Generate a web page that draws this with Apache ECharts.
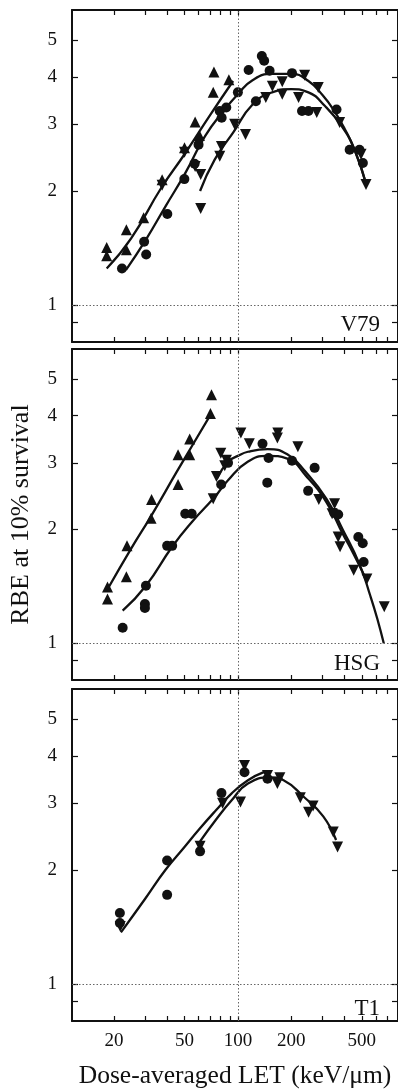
<!DOCTYPE html>
<html>
<head>
<meta charset="utf-8">
<title>RBE vs LET</title>
<script src="https://cdn.jsdelivr.net/npm/echarts@6/dist/echarts.min.js"></script>
<style>
  html, body { margin: 0; padding: 0; background: #fff; }
  #chart { width: 398px; height: 1090px; }
</style>
</head>
<body>
<div id="chart"></div>
<script>
// Axis ticks and labels
const letLabels = [20, 50, 100, 200, 500];
const letTicks = [20, 30, 40, 50, 60, 70, 80, 90, 100, 200, 300, 400, 500, 600, 700];
const rbeLabels = [1, 2, 3, 4, 5];
const rbeTicks = [0.9, 1, 2, 3, 4, 5];
const panelNames = ['V79', 'HSG', 'T1'];

// V79 measurements [LET, RBE]
const v79Up = [[18.2,1.42],[18.2,1.35],[23.5,1.58],[23.5,1.40],[29.4,1.70],[37.4,2.14],[50,2.60],
  [57.4,3.04],[60.7,2.80],[73.3,4.12],[72.6,3.64],[89,3.93]];
const v79Circle = [[22.2,1.25],[30.4,1.36],[29.6,1.47],[40,1.74],[49.9,2.15],[57,2.36],[60,2.65],
  [79,3.25],[86,3.32],[81,3.12],[100,3.64],[115,4.17],[126.4,3.45],[136.5,4.54],[140.7,4.41],
  [151,4.15],[202,4.09],[230,3.25],[250,3.25],[360,3.28],[427,2.57],[485,2.57],[507,2.37]];
const v79Down = [[37.4,2.07],[50,2.53],[57.4,2.32],[61.7,2.21],[61.7,1.80],[79,2.47],[80.8,2.62],
  [95.9,3.00],[110.4,2.82],[143.7,3.53],[156.5,3.78],[178,3.88],[178,3.60],[220,3.53],[238,4.04],
  [278.6,3.22],[284,3.75],[375,3.03],[495,2.50],[528,2.08]];
// V79 fitted curves
const v79UpFit = [[18.2,1.25],[25,1.50],[37,2.04],[50,2.50],[70,3.18],[94,3.90]];
const v79CircleFit = [[23.4,1.24],[30.3,1.49],[39,1.82],[50.5,2.23],[65.3,2.79],[84.3,3.28],[100,3.60],
  [121,3.92],[156,4.07],[200,4.07],[250,3.90],[300,3.58],[350,3.25],[400,2.92],[455,2.57],[530,2.08]];
const v79DownFit = [[61.2,2.00],[74,2.42],[94,2.85],[121,3.38],[156,3.64],[200,3.71],[250,3.64],
  [310,3.35],[384,2.97],[455,2.57],[530,2.08]];

// HSG measurements
const hsgUp = [[18.4,1.41],[18.4,1.31],[23.7,1.81],[23.5,1.50],[32.6,2.40],[32.4,2.14],[46,3.15],
  [46,2.63],[53.5,3.47],[53.5,3.15],[71,4.54],[70,4.05]];
const hsgCircle = [[22.4,1.10],[29.9,1.27],[29.9,1.24],[30.3,1.42],[39.9,1.81],[42.6,1.81],[50.5,2.20],
  [54.9,2.20],[80.5,2.63],[88,3.00],[137.7,3.37],[149,3.09],[146.5,2.66],[202,3.04],[271,2.91],
  [249,2.53],[350,2.21],[368,2.19],[478,1.91],[506,1.84],[512,1.64]];
const hsgDown = [[72.6,2.41],[75.7,2.76],[80.1,3.18],[84.3,2.95],[86.2,3.05],[104,3.60],[116,3.37],
  [168,3.60],[167,3.49],[218,3.31],[286,2.40],[351,2.34],[340,2.20],[368,1.91],[377,1.80],
  [450,1.56],[534,1.48],[669,1.25]];
// HSG fitted curves
const hsgUpFit = [[18.4,1.39],[25,1.78],[32.4,2.17],[45,2.83],[55,3.32],[71,4.06]];
const hsgCircleFit = [[22.4,1.22],[30.3,1.42],[42.6,1.80],[54.9,2.09],[74.2,2.44],[88,2.70],[113.6,3.02],
  [147,3.13],[190,3.08],[241,2.78],[316,2.36],[390,1.95],[450,1.72],[520,1.50]];
const hsgDownFit = [[76,2.72],[88,3.02],[100,3.13],[114,3.21],[147,3.26],[190,3.16],[241,2.84],
  [316,2.41],[390,2.00],[485,1.62],[560,1.33],[612,1.16],[665,1.00]];

// T1 measurements
const t1Circle = [[21.6,1.54],[21.6,1.45],[39.9,2.12],[39.9,1.72],[61.2,2.24],[80.8,3.19],[109,3.62],[146.9,3.48]];
const t1Down = [[21.7,1.42],[61.2,2.31],[82,3.00],[103.5,3.02],[109,3.77],[146.9,3.55],[167,3.38],
  [172.5,3.50],[225,3.10],[250.5,2.84],[265.5,2.95],[345,2.52],[365,2.30]];
// T1 fitted curves
const t1CircleFit = [[21.9,1.37],[30,1.68],[39,2.00],[50,2.30],[60,2.55],[75,2.87],[92,3.18],[114,3.45],[141,3.63]];
const t1DownFit = [[61.2,2.38],[75,2.71],[92,3.05],[114,3.38],[153,3.51],[181,3.45],[235,3.12],[303,2.77],[358,2.40]];

const panels = [
  { up: v79Up, circle: v79Circle, down: v79Down, fits: [v79UpFit, v79CircleFit, v79DownFit] },
  { up: hsgUp, circle: hsgCircle, down: hsgDown, fits: [hsgUpFit, hsgCircleFit, hsgDownFit] },
  { up: null, circle: t1Circle, down: t1Down, fits: [t1CircleFit, t1DownFit] }
];

const FONT = '"Liberation Serif", "DejaVu Serif", serif';
const INK = '#111';
const gridBoxes = [
  { left: 72, width: 330.6, top: 10, height: 332 },
  { left: 72, width: 330.6, top: 349, height: 331 },
  { left: 72, width: 330.6, top: 689, height: 333 }
];
const titleTops = [313, 652, 997];

const xAxes = [], yAxes = [], series = [], titles = [];

gridBoxes.forEach((g, i) => {
  const last = i === gridBoxes.length - 1;
  ['bottom', 'top'].forEach(pos => {
    xAxes.push({
      type: 'log', logBase: 10, min: 11.6, max: 800, gridIndex: i, position: pos,
      axisLine: { show: true, lineStyle: { color: INK, width: 2 } },
      axisTick: { show: true, inside: true, length: 5, customValues: letTicks, lineStyle: { color: INK, width: 1.2 } },
      axisLabel: { show: last && pos === 'bottom', customValues: letLabels, fontFamily: FONT, fontSize: 19, color: INK, margin: 11 },
      splitLine: { show: false },
      name: last && pos === 'bottom' ? 'Dose-averaged LET (keV/\u03bcm)' : '',
      nameLocation: 'middle', nameGap: 42,
      nameTextStyle: { fontFamily: FONT, fontSize: 25.5, color: INK }
    });
  });
  ['left', 'right'].forEach(pos => {
    yAxes.push({
      type: 'log', logBase: 10, min: 0.8, max: 6, gridIndex: i, position: pos,
      axisLine: { show: true, lineStyle: { color: INK, width: 2 } },
      axisTick: { show: true, inside: true, length: 6, customValues: rbeTicks, lineStyle: { color: INK, width: 1.2 } },
      axisLabel: { show: pos === 'left', customValues: rbeLabels, fontFamily: FONT, fontSize: 19, color: INK, margin: 15 },
      splitLine: { show: false },
      name: i === 1 && pos === 'left' ? 'RBE at 10% survival' : '',
      nameLocation: 'middle', nameGap: 38,
      nameTextStyle: { fontFamily: FONT, fontSize: 26, color: INK }
    });
  });
  titles.push({
    text: panelNames[i], right: 18, top: titleTops[i], padding: 0,
    textStyle: { fontFamily: FONT, fontSize: 23, fontWeight: 'normal', color: INK }
  });

  const p = panels[i];
  const xi = i * 2, yi = i * 2;
  // dotted reference lines at LET = 100 and RBE = 1
  series.push({
    type: 'line', xAxisIndex: xi, yAxisIndex: yi, data: [], silent: true,
    markLine: {
      silent: true, symbol: 'none', label: { show: false },
      lineStyle: { type: [1.5, 2], color: '#666', width: 1 },
      data: [{ xAxis: 100 }, { yAxis: 1 }]
    }
  });
  p.fits.forEach(f => {
    series.push({
      type: 'line', xAxisIndex: xi, yAxisIndex: yi, data: f, smooth: 0.5,
      showSymbol: false, lineStyle: { color: INK, width: 2.3 }, z: 3
    });
  });
  const dot = { color: INK, opacity: 1 };
  if (p.up) {
    series.push({ type: 'scatter', xAxisIndex: xi, yAxisIndex: yi, data: p.up,
      symbol: 'triangle', symbolSize: 11, itemStyle: dot, z: 4 });
  }
  series.push({ type: 'scatter', xAxisIndex: xi, yAxisIndex: yi, data: p.circle,
    symbol: 'circle', symbolSize: 10, itemStyle: dot, z: 4 });
  series.push({ type: 'scatter', xAxisIndex: xi, yAxisIndex: yi, data: p.down,
    symbol: 'triangle', symbolRotate: 180, symbolSize: 11, itemStyle: dot, z: 4 });
});

const chart = echarts.init(document.getElementById('chart'), null, { renderer: 'canvas' });
chart.setOption({
  animation: false,
  backgroundColor: '#fff',
  title: titles,
  grid: gridBoxes,
  xAxis: xAxes,
  yAxis: yAxes,
  series: series
});
</script>
</body>
</html>
